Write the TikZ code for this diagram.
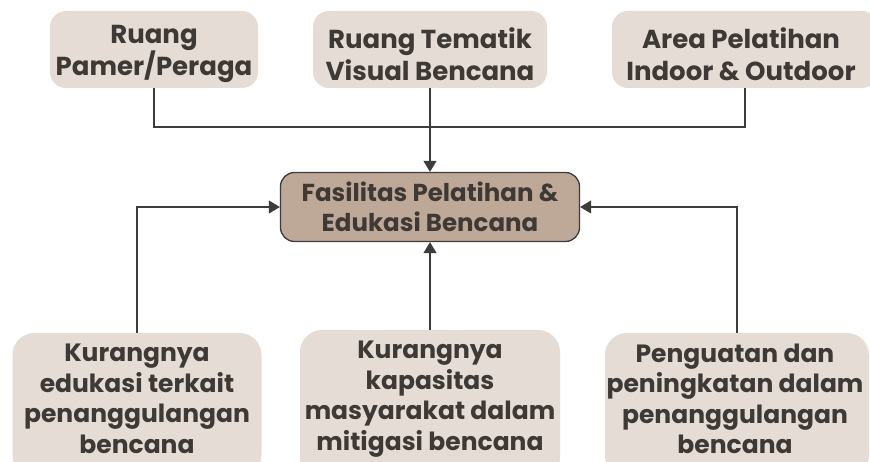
\documentclass[tikz,border=0pt]{standalone}
\usepackage{fontspec}
\setmainfont{Poppins}
\usetikzlibrary{arrows.meta}
\definecolor{boxfill}{HTML}{E4DCD5}
\definecolor{corefill}{HTML}{BEA898}
\definecolor{ink}{HTML}{3E3935}
\definecolor{wire}{HTML}{3C3C3C}
\tikzset{
  lightbox/.style={fill=boxfill, rounded corners=16pt, inner sep=0pt},
  lowbox/.style={lightbox, rounded corners=22pt},
  toptext/.style={align=center, text=ink, inner sep=0pt, font=\fontsize{26}{32}\selectfont\bfseries},
  lowtext/.style={align=center, text=ink, inner sep=0pt, font=\fontsize{25}{30.5}\selectfont\bfseries},
  corebox/.style={fill=corefill, draw=wire, line width=1.3pt, rounded corners=14pt,
    inner sep=0pt, align=center, text=ink, font=\fontsize{24.5}{30}\selectfont\bfseries},
  link/.style={draw=wire, line width=1.1pt},
  arrowlink/.style={link, -{Triangle[length=11pt,width=13pt]}},
}
\begin{document}
\begin{tikzpicture}[x=1pt,y=-1pt]
\clip (0,0) rectangle (870,462);
\fill[white] (0,0) rectangle (870,462);
% top row
\node[lightbox, minimum width=208pt, minimum height=77pt] (b1) at (154,49.5) {};
\node[lightbox, minimum width=234pt, minimum height=77pt] (b2) at (430,49.5) {};
\node[lightbox, minimum width=266pt, minimum height=77pt] (b3) at (745,49.5) {};
\node[toptext] (t1) at (154,54) {Ruang\\Pamer/Peraga};
\node[toptext] (t2) at (430,54) {Ruang Tematik\\Visual Bencana};
\node[toptext] (t3) at (741,54) {Area Pelatihan\\Indoor \& Outdoor};
% core
\node[corebox, minimum width=299pt, minimum height=69pt] (c) at (430,207) {Fasilitas Pelatihan \&\\Edukasi Bencana};
% bottom row
\node[lowbox, minimum width=249pt, minimum height=144pt] (b4) at (137,405) {};
\node[lowbox, minimum width=260pt, minimum height=150pt] (b5) at (430,405) {};
\node[lowbox, minimum width=264pt, minimum height=144pt] (b6) at (737,405) {};
\node[lowtext] (t4) at (137,399) {Kurangnya\\edukasi terkait\\penanggulangan\\bencana};
\node[lowtext] (t5) at (430,399) {Kurangnya\\kapasitas\\masyarakat dalam\\mitigasi bencana};
\node[lowtext] (t6) at (735,399) {Penguatan dan\\peningkatan dalam\\penanggulangan\\bencana};
% connectors
\coordinate (bus) at (430,127);
\draw[link] (b1.south) |- (bus) -| (b3.south);
\draw[arrowlink] (b2.south) -- (c.north);
\draw[arrowlink] (b4.north) |- (c.west);
\draw[arrowlink] (b6.north) |- (c.east);
\draw[arrowlink] (b5.north) -- (c.south);
\end{tikzpicture}
\end{document}
